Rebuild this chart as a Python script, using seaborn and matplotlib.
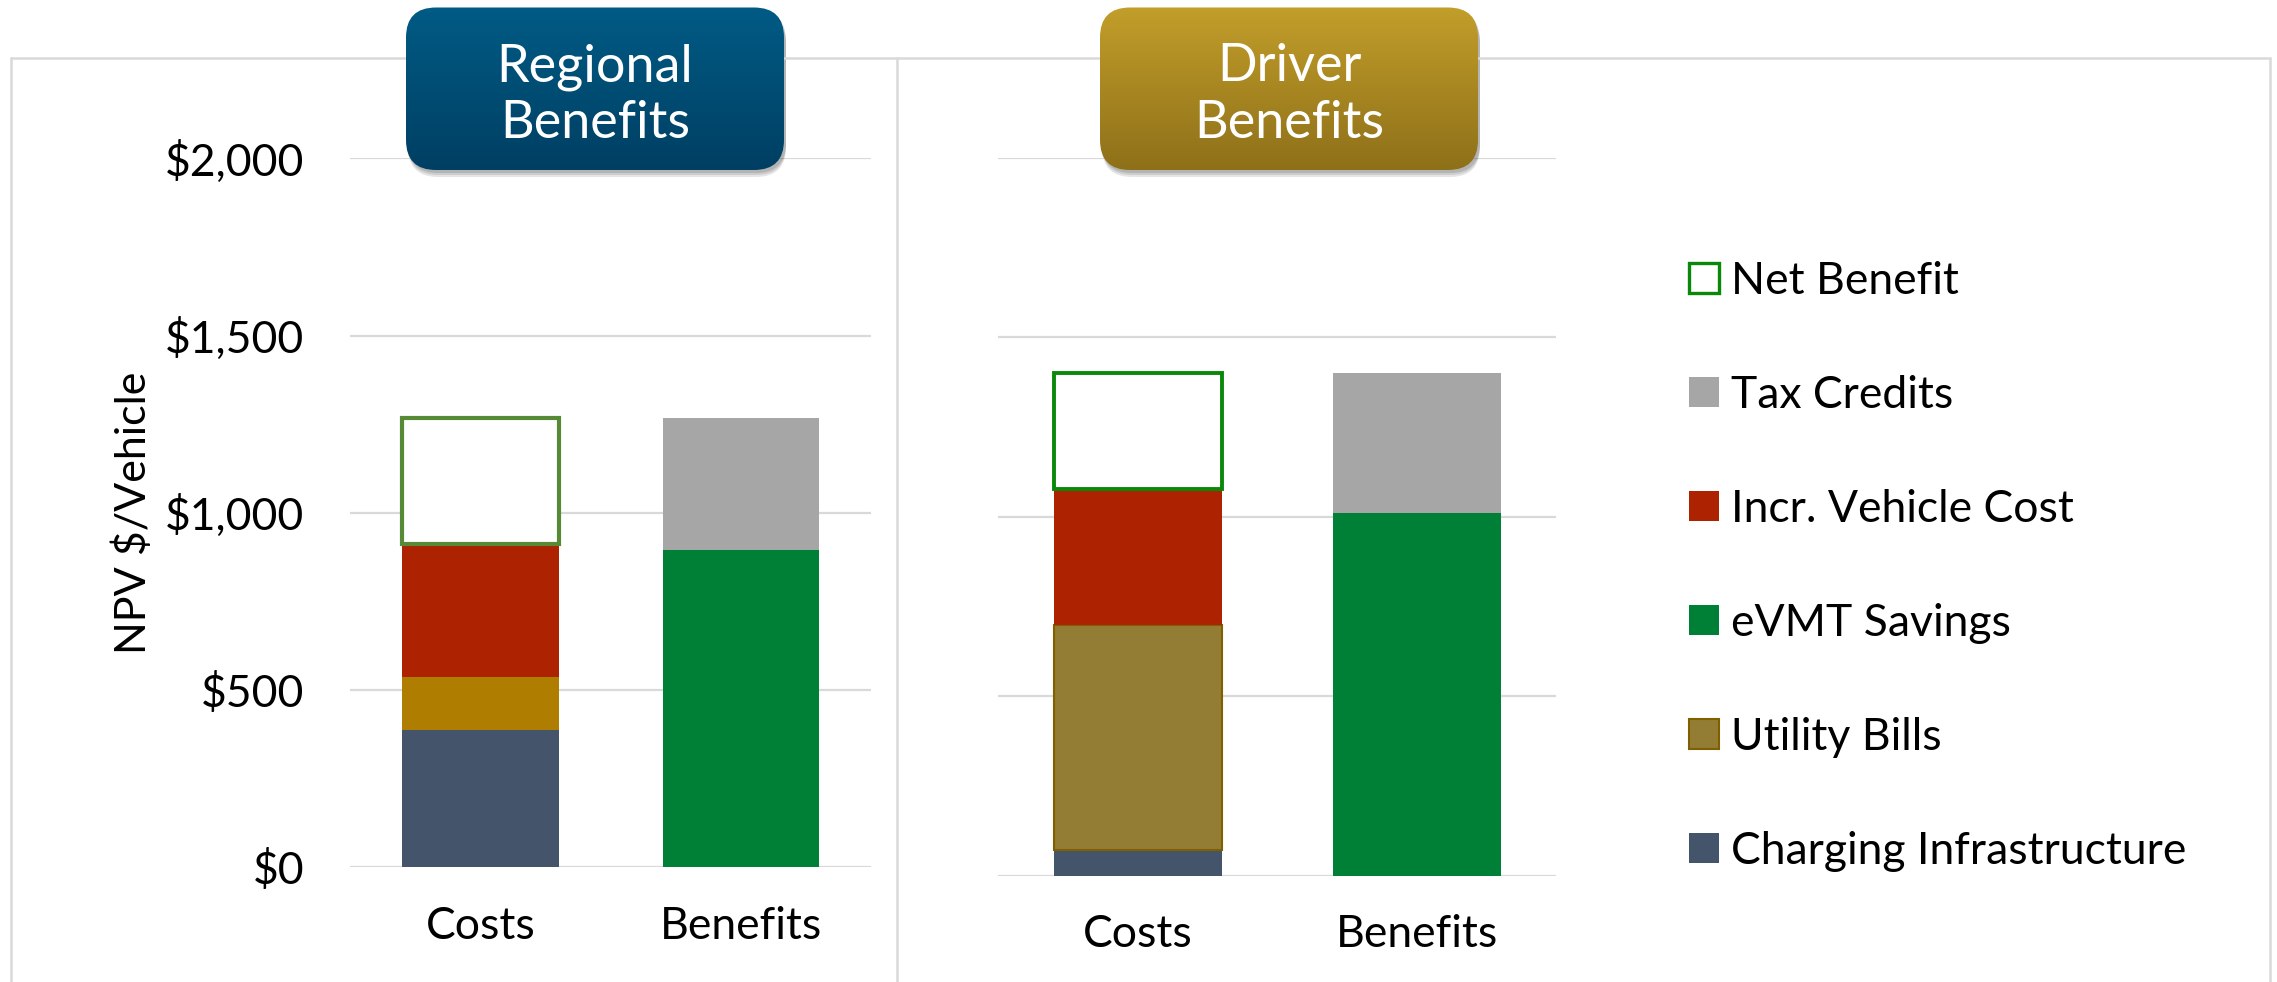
import numpy as np
import pandas as pd
import matplotlib
matplotlib.use("Agg")
import matplotlib.pyplot as plt
import seaborn as sns
from matplotlib.patches import FancyBboxPatch, Rectangle
from matplotlib.lines import Line2D

# ---------------- data ----------------
panels = ["Regional Benefits", "Driver Benefits"]
categories = ["Costs", "Benefits"]
charging_infrastructure = [388, 70]
utility_bills = [150, 628]
incr_vehicle_cost = [374, 379]
net_benefit = [355, 323]
evmt_savings = [894, 1011]
tax_credits = [373, 389]
y_ticks = [0, 500, 1000, 1500, 2000]
y_tick_labels = ["$0", "$500", "$1,000", "$1,500", "$2,000"]
legend_labels = ["Net Benefit", "Tax Credits", "Incr. Vehicle Cost",
                 "eVMT Savings", "Utility Bills", "Charging Infrastructure"]

# stacking: component -> (category, series)
stack_costs = [("Charging Infrastructure", charging_infrastructure),
               ("Utility Bills", utility_bills),
               ("Incr. Vehicle Cost", incr_vehicle_cost),
               ("Net Benefit", net_benefit)]
stack_benefits = [("eVMT Savings", evmt_savings),
                  ("Tax Credits", tax_credits)]

rows = []
for i, p in enumerate(panels):
    for cat, stack in (("Costs", stack_costs), ("Benefits", stack_benefits)):
        base = 0
        for comp, series in stack:
            rows.append(dict(panel=p, category=cat, component=comp,
                             value=series[i], bottom=base))
            base += series[i]
df = pd.DataFrame(rows)

# ---------------- styles ----------------
styles = {
    "Regional Benefits": {
        "Charging Infrastructure": ("#44546A", "#44546A", 0),
        "Utility Bills": ("#AF7E00", "#AF7E00", 0),
        "Incr. Vehicle Cost": ("#AD2200", "#AD2200", 0),
        "Net Benefit": ("white", "#578A36", 3.0),
        "eVMT Savings": ("#007F37", "#007F37", 0),
        "Tax Credits": ("#A6A6A6", "#A6A6A6", 0),
    },
    "Driver Benefits": {
        "Charging Infrastructure": ("#44546A", "#44546A", 0),
        "Utility Bills": ("#937C33", "#7F6000", 1.5),
        "Incr. Vehicle Cost": ("#AD2200", "#AD2200", 0),
        "Net Benefit": ("white", "#0A880A", 2.8),
        "eVMT Savings": ("#007F37", "#007F37", 0),
        "Tax Credits": ("#A6A6A6", "#A6A6A6", 0),
    },
}
legend_styles = {
    "Net Benefit": ("white", "#0A880A", 2.4),
    "Tax Credits": ("#A6A6A6", "#A6A6A6", 0),
    "Incr. Vehicle Cost": ("#AD2200", "#AD2200", 0),
    "eVMT Savings": ("#007F37", "#007F37", 0),
    "Utility Bills": ("#937C33", "#7F6000", 1.5),
    "Charging Infrastructure": ("#44546A", "#44546A", 0),
}

sns.set_style("white")
plt.rcParams["font.family"] = ["Lato", "DejaVu Sans"]

W, H = 2277, 982
fig = plt.figure(figsize=(W / 100, H / 100), dpi=100)
fig.patch.set_facecolor("white")

def px_axes(x0, x1, ytop, ybot):
    return fig.add_axes([x0 / W, 1 - ybot / H, (x1 - x0) / W, (ybot - ytop) / H])

ax_left = px_axes(350, 871.4, 158.4, 867.2)
ax_right = px_axes(998.3, 1556.3, 157.8, 875.5)
axes = [ax_left, ax_right]

grid_color = "#D9D9D9"
for i, ax in enumerate(axes):
    p = panels[i]
    for comp in df.loc[df.panel == p, "component"]:
        sub = df[(df.panel == p) & (df.component == comp)]
        face, edge, lw = styles[p][comp]
        sns.barplot(data=sub, x="category", y="value", order=categories,
                    bottom=float(sub["bottom"].iloc[0]), width=0.6,
                    color=face, edgecolor=edge, linewidth=lw,
                    saturation=1, errorbar=None, ax=ax, zorder=3)
    ax.set_xlim(-0.5, 1.5)
    ax.set_ylim(0, 2000)
    ax.set_yticks(y_ticks)
    ax.yaxis.grid(True, color=grid_color, linewidth=1.6)
    ax.xaxis.grid(False)
    ax.set_axisbelow(True)
    for s in ax.spines.values():
        s.set_visible(False)
    ax.set_xlabel("")
    ax.set_ylabel("")
    ax.set_facecolor("none")
    ax.tick_params(axis="x", length=0, labelsize=32, pad=28, labelcolor="black")
    ax.tick_params(axis="y", length=0, labelsize=32, pad=33, labelcolor="black")

ax_left.set_yticklabels(y_tick_labels)
ax_right.set_yticklabels([])
ax_left.set_ylabel("NPV $/Vehicle", fontsize=31, color="black")
ax_left.yaxis.set_label_coords((132.6 - 350) / 521.4, 0.5)
ax_left.yaxis.label.set(rotation_mode="default", va="center", ha="center")

# ---------------- overlay (frame, title boxes, legend) ----------------
ov = fig.add_axes([0, 0, 1, 1], zorder=10)
ov.set_xlim(0, W)
ov.set_ylim(H, 0)
ov.axis("off")
ov.patch.set_alpha(0)

frame_c = "#D9D9D9"
flw = 1.8
ov.add_line(Line2D([10.5, 2270], [58, 58], color=frame_c, lw=flw))
for xx in (10.5, 896.5, 2270):
    ov.add_line(Line2D([xx, xx], [58, H + 5], color=frame_c, lw=flw))

def title_box(x0, x1, y0, y1, c_top, c_bot, lines, cx):
    # shadow
    for k, a in enumerate([0.10, 0.10, 0.12]):
        off = 7 - 2 * k
        sh = FancyBboxPatch((x0 + 2, y0 + off), x1 - x0, y1 - y0,
                            boxstyle="round,pad=0,rounding_size=30",
                            fc="black", ec="none", alpha=a, zorder=1)
        ov.add_patch(sh)
    box = FancyBboxPatch((x0, y0), x1 - x0, y1 - y0,
                         boxstyle="round,pad=0,rounding_size=30",
                         fc="none", ec="none", zorder=2)
    ov.add_patch(box)
    ct = np.array(matplotlib.colors.to_rgb(c_top))
    cb = np.array(matplotlib.colors.to_rgb(c_bot))
    t = np.linspace(0, 1, 200)[:, None]
    grad = (ct[None, :] * (1 - t) + cb[None, :] * t)[:, None, :]
    im = ov.imshow(grad, extent=(x0, x1, y1, y0), origin="upper",
                   aspect="auto", zorder=2, interpolation="bilinear")
    im.set_clip_path(box)
    for text, base in zip(lines, (81, 138)):
        ov.text(cx, base, text, color="white", fontsize=37.5, ha="center",
                va="baseline", zorder=3)

title_box(406, 784, 7.5, 170, "#005B85", "#003F63", ["Regional", "Benefits"], 595)
title_box(1100, 1478, 7.5, 170, "#C29E2A", "#8E7019", ["Driver", "Benefits"], 1289)
ov.set_xlim(0, W)
ov.set_ylim(H, 0)

# legend
row_centers = [278, 392, 506, 620, 734, 848]
for lab, yc in zip(legend_labels, row_centers):
    face, edge, lw = legend_styles[lab]
    r = Rectangle((1689, yc - 15), 30, 30, fc=face, ec=edge,
                  lw=lw if lw else 0, zorder=3)
    ov.add_patch(r)
    ov.text(1731, yc + 16, lab, fontsize=32, color="black",
            ha="left", va="baseline", zorder=3)

fig.savefig("out.png", dpi=100, facecolor="white")
